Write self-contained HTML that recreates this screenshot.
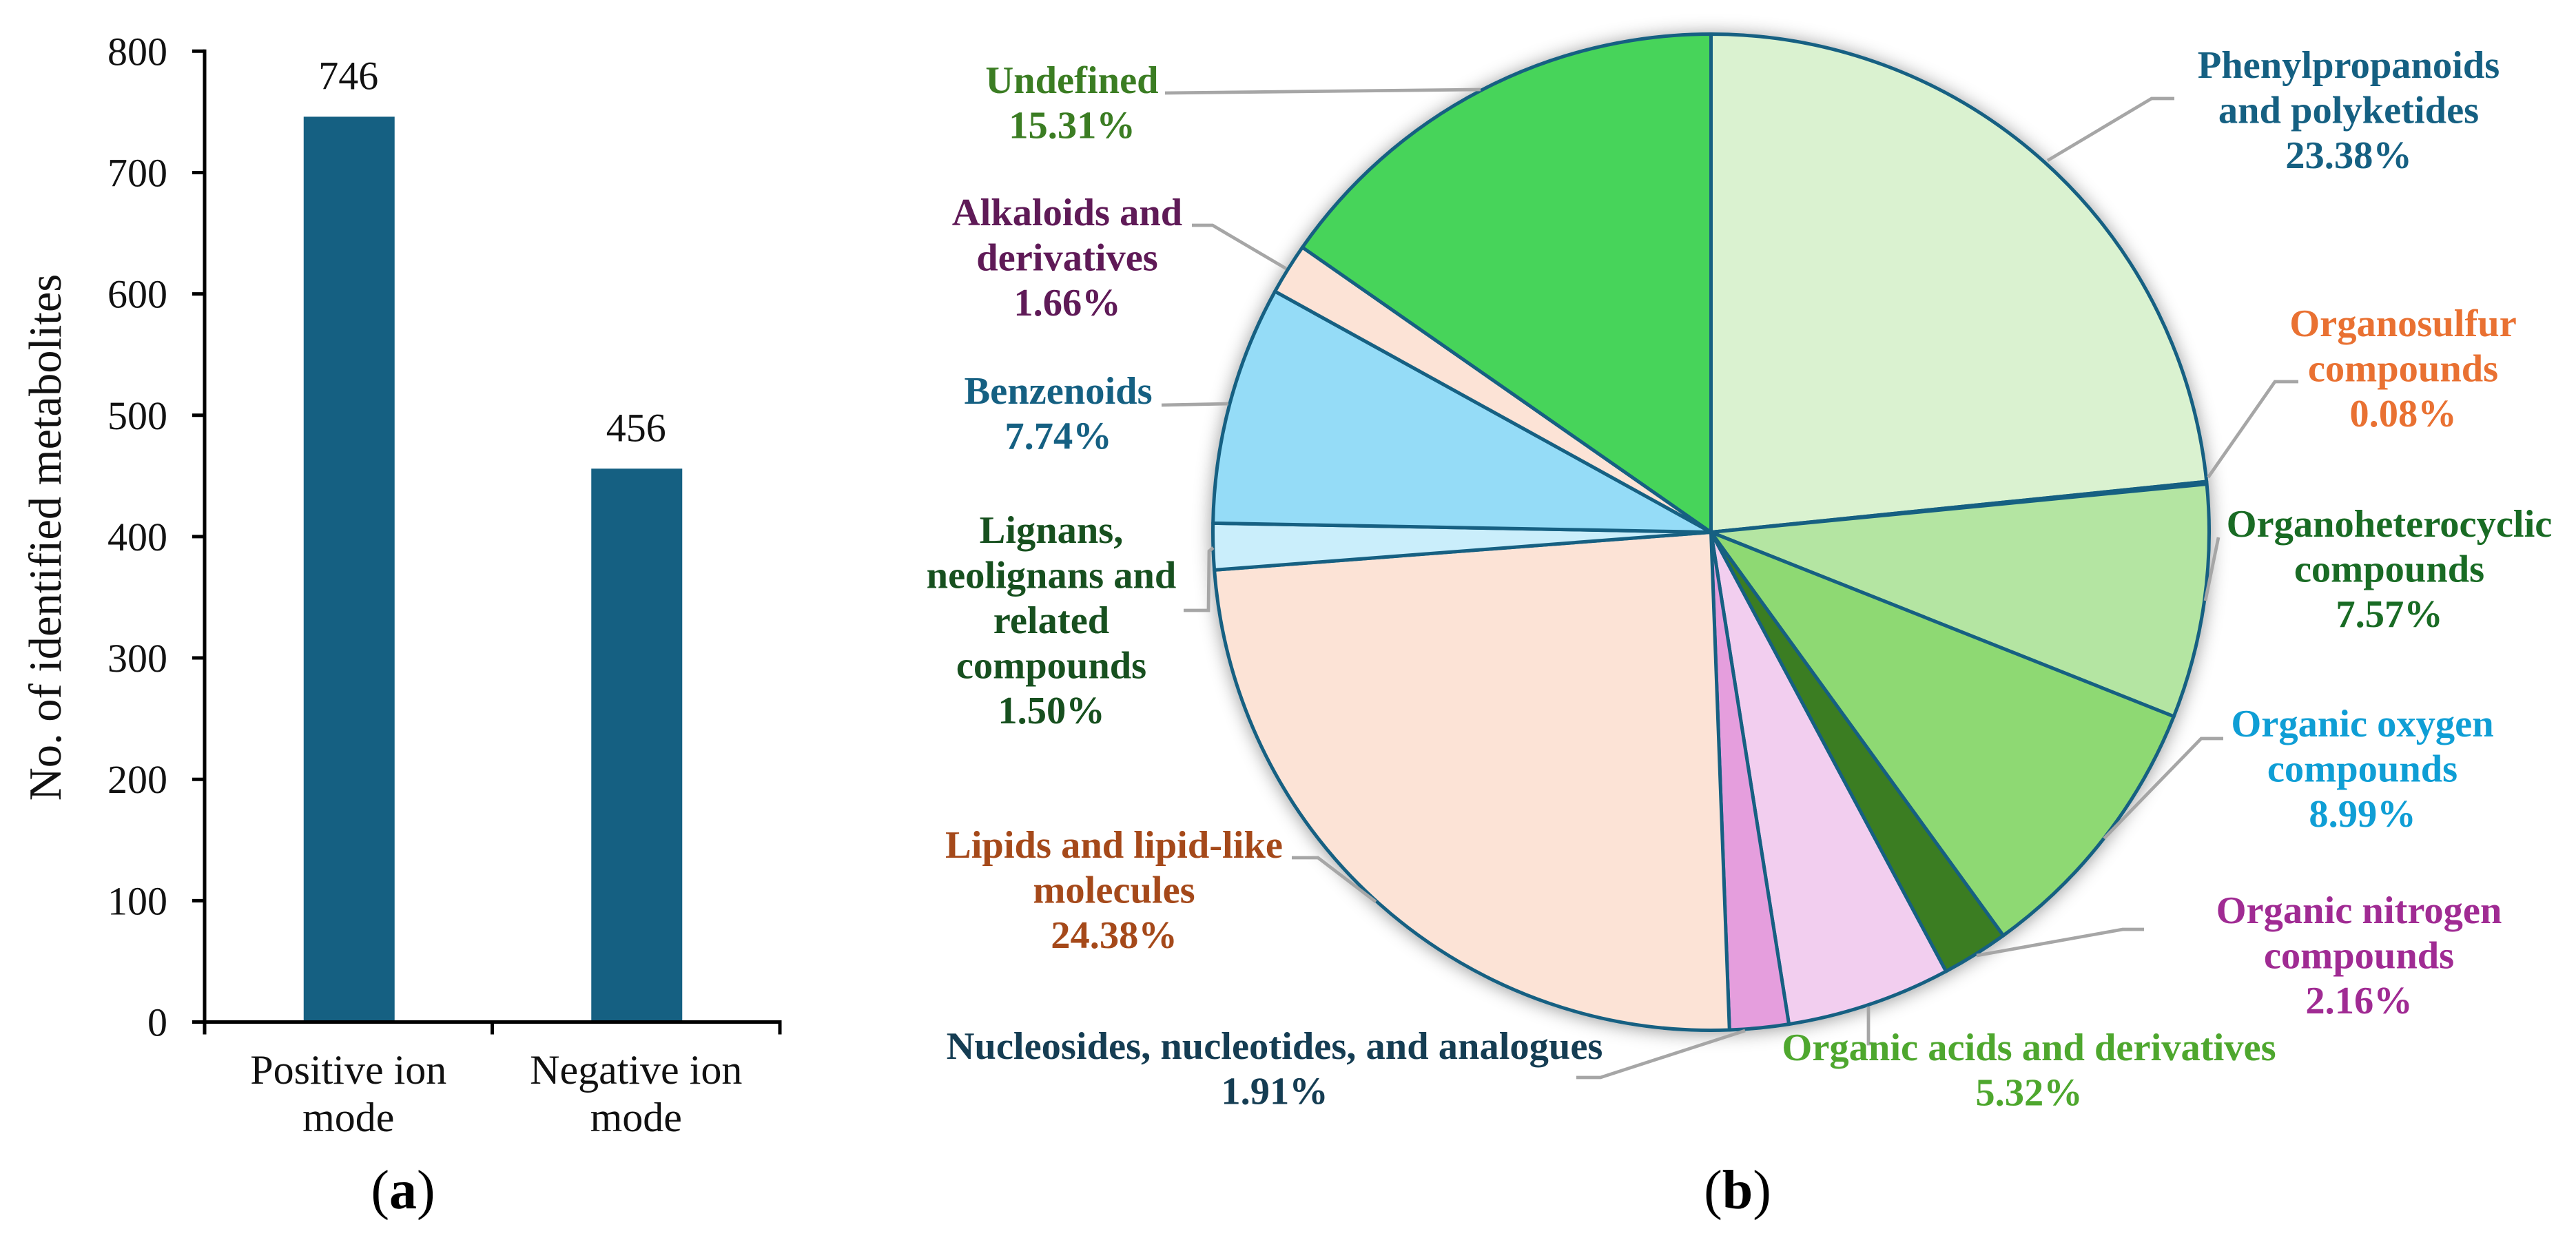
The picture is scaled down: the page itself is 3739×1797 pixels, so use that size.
<!DOCTYPE html>
<html lang="en">
<head>
<meta charset="utf-8">
<title>Identified metabolites by ion mode and class</title>
<style>
  html, body { margin: 0; padding: 0; background: #fff; }
  body { width: 3739px; height: 1797px; overflow: hidden; }
  svg { display: block; }
  text { font-family: "Liberation Serif", "Times New Roman", serif; }
  .tick { font-size: 58px; fill: #111; }
  .axis-title { font-size: 66.5px; fill: #111; }
  .pie-text { font-size: 56.5px; font-weight: bold; text-anchor: middle; }
  .panel { font-size: 80px; fill: #000; text-anchor: middle; }
</style>
</head>
<body>
<svg id="figure" xmlns="http://www.w3.org/2000/svg" width="3739" height="1797" viewBox="0 0 3739 1797">
  <defs>
    <filter id="pieShadow" x="-10%" y="-10%" width="120%" height="120%">
      <feDropShadow dx="0" dy="2" stdDeviation="13" flood-color="#000" flood-opacity="0.4"/>
    </filter>
  </defs>
  <rect width="3739" height="1797" fill="#fff"/>
  <g id="barChart"></g>
  <g id="pieChart"></g>
  <text class="panel" x="585" y="1754">(<tspan font-weight="bold">a</tspan>)</text>
  <text class="panel" x="2522" y="1754">(<tspan font-weight="bold">b</tspan>)</text>
</svg>
<script>
// ---- Bar chart data ----
const barCategories = [["Positive ion", "mode"], ["Negative ion", "mode"]];
const barValues = [746, 456];
const yTickValues = [0, 100, 200, 300, 400, 500, 600, 700, 800];

// ---- Pie chart data (clockwise from 12 o'clock) ----
const pieCategories = [
  ["Phenylpropanoids", "and polyketides"],
  ["Organosulfur", "compounds"],
  ["Organoheterocyclic", "compounds"],
  ["Organic oxygen", "compounds"],
  ["Organic nitrogen", "compounds"],
  ["Organic acids and derivatives"],
  ["Nucleosides, nucleotides, and analogues"],
  ["Lipids and lipid-like", "molecules"],
  ["Lignans,", "neolignans and", "related", "compounds"],
  ["Benzenoids"],
  ["Alkaloids and", "derivatives"],
  ["Undefined"]
];
const pieShares = [23.38, 0.08, 7.57, 8.99, 2.16, 5.32, 1.91, 24.38, 1.50, 7.74, 1.66, 15.31];

// ---- Styling and annotation layout (not data) ----
const sliceFills = ["#DAF2D0", "#8ED973", "#B4E5A2", "#8ED973", "#3B7D23", "#F2CEEF", "#E59EDD", "#FCE3D6", "#CAEEFB", "#95DCF7", "#FCE3D6", "#47D45A"];
const labelColors = ["#156082", "#E97132", "#196B24", "#0F9ED5", "#A02B93", "#4EA72E", "#153D53", "#A5491A", "#17501F", "#156082", "#5F1A57", "#3B7D23"];
const labelLayout = [
  { x: 3409, y: 113 }, { x: 3488, y: 488 }, { x: 3468, y: 779 }, { x: 3429, y: 1069 },
  { x: 3424, y: 1340 }, { x: 2945, y: 1539 }, { x: 1850, y: 1537 }, { x: 1617, y: 1245 },
  { x: 1526, y: 788 }, { x: 1536, y: 586 }, { x: 1549, y: 327 }, { x: 1556, y: 135 }
];
const leaderLayout = [
  "2972,233 3123,143 3156,143",
  "3205,693 3302,554 3336,554",
  "3201,872 3220,780",
  "3054,1217 3195,1072 3227,1072",
  "2869,1387 3081,1349 3112,1349",
  "2712,1461 2712,1515 2718,1515",
  "2533,1496 2323,1564 2288,1564",
  "1997,1309 1913,1245 1875,1245",
  "1761,795 1755,800 1754,886 1718,886",
  "1783,586 1686,588",
  "1867,390 1760,327 1730,327",
  "2149,130 1691,135"
];

const NS = "http://www.w3.org/2000/svg";
function svgEl(tag, attrs, parent) {
  const el = document.createElementNS(NS, tag);
  for (const k in attrs) el.setAttribute(k, attrs[k]);
  parent.appendChild(el);
  return el;
}
function slug(s) {
  return s.toLowerCase().replace(/[^a-z0-9]+/g, "-").replace(/^-|-$/g, "");
}

// ---- Bar chart ----
const plot = { left: 297, right: 1132, top: 74.3, bottom: 1483.5, yMax: 800, barWidth: 132 };
const barRoot = document.getElementById("barChart");
function yScale(v) {
  return plot.bottom - (v / plot.yMax) * (plot.bottom - plot.top);
}
function xBand(i) {
  const w = (plot.right - plot.left) / barCategories.length;
  return plot.left + w * i;
}
function xCenter(i) {
  return xBand(i) + (xBand(1) - xBand(0)) / 2 + 1;
}

barValues.forEach(function (v, i) {
  const bar = svgEl("rect", { x: xCenter(i) - plot.barWidth / 2, y: yScale(v), width: plot.barWidth, height: plot.bottom - yScale(v), fill: "#156082" }, barRoot);
  
  
  const valueLabel = svgEl("text", { x: xCenter(i) - 1, y: yScale(v) - 40, class: "tick", "text-anchor": "middle" }, barRoot);
  valueLabel.textContent = String(v);
  
  
});

const yAxisLine = svgEl("line", { x1: plot.left, x2: plot.left, y1: plot.top - 2.5, y2: plot.bottom + 2.5, stroke: "#000", "stroke-width": 5 }, barRoot);


const xAxisLine = svgEl("line", { x1: plot.left - 2.5, x2: plot.right + 2.5, y1: plot.bottom, y2: plot.bottom, stroke: "#000", "stroke-width": 5 }, barRoot);



yTickValues.forEach(function (t) {
  const tick = svgEl("line", { x1: plot.left - 18, x2: plot.left, y1: yScale(t), y2: yScale(t), stroke: "#000", "stroke-width": 5 }, barRoot);
  
  
  const label = svgEl("text", { x: 243, y: yScale(t) + 20, class: "tick", "text-anchor": "end" }, barRoot);
  label.textContent = String(t);
  
  
});

for (let i = 0; i <= barCategories.length; i++) {
  const xTick = svgEl("line", { x1: xBand(i), x2: xBand(i), y1: plot.bottom, y2: plot.bottom + 18, stroke: "#000", "stroke-width": 5 }, barRoot);
  
  
}

barCategories.forEach(function (lines, i) {
  const label = svgEl("text", { class: "tick", "text-anchor": "middle", style: "font-size:60px" }, barRoot);
  
  
  lines.forEach(function (line, j) {
    const t = svgEl("tspan", { x: xCenter(i) - 1, y: 1573 + j * 69 }, label);
    t.textContent = line;
  });
});

const yTitle = svgEl("text", { class: "axis-title", "text-anchor": "middle", transform: "translate(88 780) rotate(-90)" }, barRoot);
yTitle.textContent = "No. of identified metabolites";



// ---- Pie chart ----
const pie = { cx: 2483.5, cy: 772.5, r: 723 };
const pieRoot = document.getElementById("pieChart");
const shareTotal = pieShares.reduce(function (a, b) { return a + b; }, 0);
function angleOf(cumulative) {
  return (cumulative / shareTotal) * 2 * Math.PI;
}
function polar(angle) {
  return [pie.cx + pie.r * Math.sin(angle), pie.cy - pie.r * Math.cos(angle)];
}

const sliceGroup = svgEl("g", { filter: "url(#pieShadow)" }, pieRoot);



let cumulative = 0;
pieShares.forEach(function (share, i) {
  const a0 = angleOf(cumulative);
  const a1 = angleOf(cumulative + share);
  cumulative += share;
  const p0 = polar(a0);
  const p1 = polar(a1);
  const large = a1 - a0 > Math.PI ? 1 : 0;
  const d = "M" + pie.cx + " " + pie.cy + " L" + p0[0] + " " + p0[1] + " A" + pie.r + " " + pie.r + " 0 " + large + " 1 " + p1[0] + " " + p1[1] + " Z";
  const slice = svgEl("path", { d: d, fill: sliceFills[i], stroke: "#156082", "stroke-width": 5, "stroke-linejoin": "round" }, sliceGroup);
  
  
});

const leaderGroup = svgEl("g", { fill: "none", stroke: "#A6A6A6", "stroke-width": 4.75 }, pieRoot);



leaderLayout.forEach(function (pts, i) {
  const leader = svgEl("polyline", { points: pts }, leaderGroup);
  
  
});

pieCategories.forEach(function (lines, i) {
  const label = svgEl("text", { class: "pie-text", fill: labelColors[i] }, pieRoot);
  
  
  const all = lines.concat([pieShares[i].toFixed(2) + "%"]);
  all.forEach(function (line, j) {
    const t = svgEl("tspan", { x: labelLayout[i].x, y: labelLayout[i].y + j * 65.5 }, label);
    t.textContent = line;
  });
});
</script>
</body>
</html>
